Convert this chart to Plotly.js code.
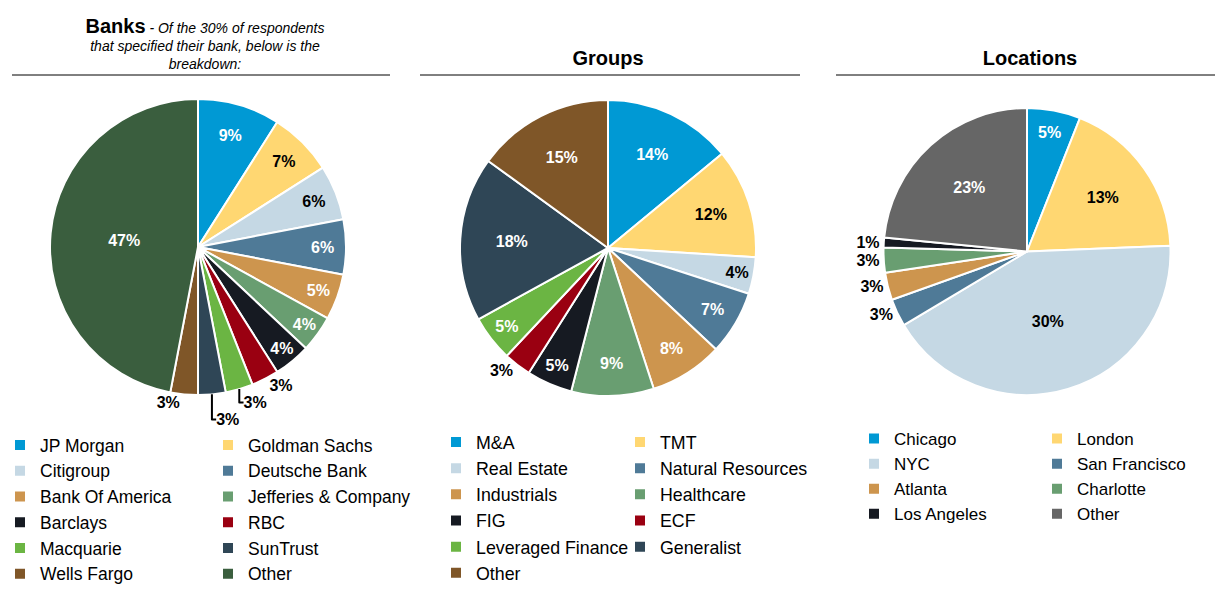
<!DOCTYPE html>
<html>
<head>
<meta charset="utf-8">
<script src="https://cdn.plot.ly/plotly-3.0.1.min.js"></script>
<style>
  html, body { margin: 0; padding: 0; background: #ffffff; }
  #wrap { position: relative; width: 1232px; height: 607px; overflow: hidden; }
  .pane { position: absolute; left: 0; top: 0; width: 1232px; height: 607px; }
</style>
</head>
<body>
<div id="wrap">
  <div id="banks" class="pane"></div>
  <div id="groups" class="pane"></div>
  <div id="locations" class="pane"></div>
</div>
<script>
// ---------------- DATA ----------------
const bankNames = ['JP Morgan', 'Goldman Sachs', 'Citigroup', 'Deutsche Bank', 'Bank Of America',
  'Jefferies & Company', 'Barclays', 'RBC', 'Macquarie', 'SunTrust', 'Wells Fargo', 'Other'];
const bankShares = [9, 7, 6, 6, 5, 4, 4, 3, 3, 3, 3, 47];

const groupNames = ['M&A', 'TMT', 'Real Estate', 'Natural Resources', 'Industrials', 'Healthcare',
  'FIG', 'ECF', 'Leveraged Finance', 'Generalist', 'Other'];
const groupShares = [14, 12, 4, 7, 8, 9, 5, 3, 5, 18, 15];

const locationNames = ['Chicago', 'London', 'NYC', 'San Francisco', 'Atlanta', 'Charlotte', 'Los Angeles', 'Other'];
// slice sizes as drawn in the picture
const locationSlices = [6, 18.3, 42, 3.1, 3.1, 2.8, 1.1, 23.4];
// percentages printed on the slices
const locationLabels = ['5%', '13%', '30%', '3%', '3%', '3%', '1%', '23%'];

// ---------------- STYLE ----------------
const C = {
  blue: '#0099D4', yellow: '#FFD772', light: '#C5D8E4', steel: '#4F7A97', tan: '#CD954E',
  sage: '#699E71', black: '#161A22', red: '#9A0011', lime: '#6BB543', slate: '#2F4656',
  brown: '#7F5628', dkgreen: '#3A5E3E', grey: '#666666'
};
const bankColors = [C.blue, C.yellow, C.light, C.steel, C.tan, C.sage, C.black, C.red, C.lime, C.slate, C.brown, C.dkgreen];
const groupColors = [C.blue, C.yellow, C.light, C.steel, C.tan, C.sage, C.black, C.red, C.lime, C.slate, C.brown];
const locationColors = [C.blue, C.yellow, C.light, C.steel, C.tan, C.sage, C.black, C.grey];
const darkText = [C.yellow, C.light];

const FONT = 'Liberation Sans, Arial, Helvetica, sans-serif';
const PH = 607, PW = 1232;

function build(divId, names, values, colors, opts) {
  const L = opts.L, W = opts.W;
  const dom = {
    x: [(opts.cx - opts.r - L) / W, (opts.cx + opts.r - L) / W],
    y: [(PH - (opts.cy + opts.r)) / PH, (PH - (opts.cy - opts.r)) / PH]
  };
  const trace = {
    type: 'pie',
    labels: names,
    values: values,
    sort: false,
    direction: 'clockwise',
    rotation: 0,
    domain: dom,
    marker: { colors: colors, line: { color: '#ffffff', width: 2 } },
    textposition: values.map(v => v < 4 ? 'outside' : 'inside'),
    insidetextorientation: 'horizontal',
    textfont: { family: FONT, size: 16, weight: 'bold',
      color: colors.map(c => darkText.includes(c) ? '#000000' : '#ffffff') },
    outsidetextfont: { family: FONT, size: 16, weight: 'bold', color: '#000000' },
    hoverinfo: 'none'
  };
  if (opts.text) {
    trace.text = opts.text;
    trace.textinfo = 'text';
  } else {
    trace.texttemplate = '%{value}%';
  }
  const layout = {
    width: PW, height: PH,
    margin: { l: L, r: PW - L - W, t: 0, b: 0, pad: 0 },
    paper_bgcolor: 'rgba(0,0,0,0)',
    plot_bgcolor: 'rgba(0,0,0,0)',
    font: { family: FONT, color: '#000000' },
    showlegend: true,
    legend: {
      orientation: 'h',
      entrywidthmode: 'fraction', entrywidth: 0.5,
      x: 0, xanchor: 'left',
      y: 1 - opts.legendTop / PH, yanchor: 'top',
      font: { family: FONT, size: opts.legendSize, color: '#000000' },
      itemclick: false, itemdoubleclick: false,
      bgcolor: 'rgba(0,0,0,0)'
    },
    title: {
      text: opts.title,
      xref: 'paper', x: (opts.titleX - L) / W, xanchor: 'center',
      yref: 'container', y: 1 - opts.titleY / PH, yanchor: opts.titleAnchor,
      font: { family: FONT, size: opts.titleSize, color: '#000000' }
    },
    shapes: [{
      type: 'line', xref: 'paper', yref: 'paper',
      x0: (opts.lineX[0] - L) / W, x1: (opts.lineX[1] - L) / W,
      y0: 1 - 75 / PH, y1: 1 - 75 / PH,
      line: { color: '#000000', width: 1 }
    }]
  };
  Plotly.newPlot(divId, [trace], layout, { staticPlot: true, displayModeBar: false });
}

build('banks', bankNames, bankShares, bankColors, {
  L: 0, W: 416, cx: 198, cy: 247, r: 148,
  legendTop: 427, legendSize: 17.5,
  title: '<b><span style="font-size:20px">Banks</span></b> <i>- Of the 30% of respondents</i><br><i>that specified their bank, below is the</i><br><i>breakdown:</i>',
  titleX: 205, titleY: 33, titleAnchor: 'top', titleSize: 14,
  lineX: [12, 390]
});

build('groups', groupNames, groupShares, groupColors, {
  L: 436, W: 368, cx: 608, cy: 248, r: 148,
  legendTop: 424, legendSize: 17.8,
  title: '<b>Groups</b>',
  titleX: 608, titleY: 58, titleAnchor: 'middle', titleSize: 20,
  lineX: [420, 800]
});

build('locations', locationNames, locationSlices, locationColors, {
  L: 854, W: 366, cx: 1027, cy: 251.5, r: 143.5,
  legendTop: 421, legendSize: 17,
  text: locationLabels,
  title: '<b>Locations</b>',
  titleX: 1030, titleY: 58, titleAnchor: 'middle', titleSize: 20,
  lineX: [836, 1215]
});
</script>
</body>
</html>
